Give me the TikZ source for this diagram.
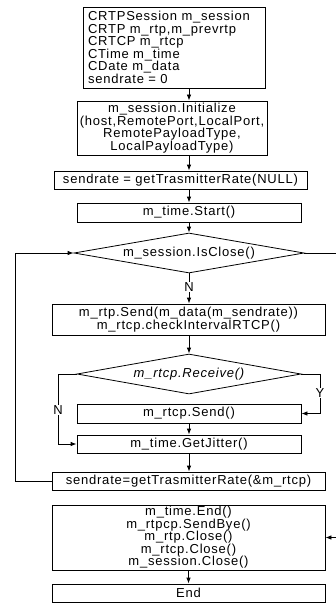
\documentclass[tikz,border=0pt]{standalone}
\usepackage{fontspec}
\setmainfont{Liberation Sans}[LetterSpace=6]
\usetikzlibrary{shapes.geometric,arrows.meta}
\begin{document}
\begin{tikzpicture}[x=1pt,y=-1pt,
  every node/.style={font=\fontsize{13}{12.5}\selectfont},
  box/.style={draw, line width=0.8pt, rectangle, inner sep=0pt, align=center},
  dia/.style={draw, line width=0.8pt, diamond, inner sep=0pt, aspect=5.75},
  lbl/.style={fill=white, inner sep=1pt},
  arr/.style={-{Latex[length=6pt,width=4.5pt]}, line width=0.8pt}]
\fill[white] (0,0) rectangle (336,604);
\useasboundingbox (0,0) rectangle (336,604);
\clip (0,0) rectangle (336,604);

\node[box, minimum width=182, minimum height=81, text width=172, align=left] (b1) at (174,47.5)
  {CRTPSession m\_session\\CRTP m\_rtp,m\_prevrtp\\CRTCP m\_rtcp\\CTime m\_time\\CDate m\_data\\sendrate = 0};
\node[box, minimum width=190, minimum height=54] (b2) at (172,128)
  {m\_session.Initialize\\(host,RemotePort,LocalPort,\\RemotePayloadType,\\LocalPayloadType)};
\node[box, minimum width=253, minimum height=18] (b3) at (180.5,180)
  {sendrate = getTrasmitterRate(NULL)};
\node[box, minimum width=224, minimum height=19] (b4) at (189,212.5) {m\_time.Start()};
\node[dia, minimum width=230, minimum height=40] (d1) at (189,253) {m\_session.IsClose()};
\node[box, minimum width=273, minimum height=31] (b5) at (188.5,319.5)
  {m\_rtp.Send(m\_data(m\_sendrate))\\m\_rtcp.checkIntervalRTCP()};
\node[dia, minimum width=224, minimum height=40] (d2) at (189,374) {\itshape m\_rtcp.Receive()};
\node[box, minimum width=224, minimum height=19] (b6) at (189,413.5) {m\_rtcp.Send()};
\node[box, minimum width=224, minimum height=18] (b7) at (189,444) {m\_time.GetJitter()};
\node[box, minimum width=273, minimum height=18] (b8) at (188.5,481) {sendrate=getTrasmitterRate(\&m\_rtcp)};
\node[box, minimum width=273, minimum height=65] (b9) at (188.5,537.5)
  {m\_time.End()\\m\_rtpcp.SendBye()\\m\_rtp.Close()\\m\_rtcp.Close()\\m\_session.Close()};
\node[box, minimum width=273, minimum height=18] (b10) at (188.5,593) {End};

\coordinate (yc) at (320,374);
\coordinate (nc) at (58,374);
\coordinate (lc) at (15,481);
\coordinate (rc) at (338,253);

\draw[arr] (b4.north |- b1.south) -- (b4.north |- b2.north);
\draw[arr] (b4.north |- b2.south) -- (b4.north |- b3.north);
\draw[arr] (b4.north |- b3.south) -- (b4.north);
\draw[arr] (b4.south) -- (d1.north);
\draw[arr] (d1.south) -- (d1.south |- b5.north);
\draw[arr] (d1.south |- b5.south) -- (d2.north);
\draw[arr] (d2.east) -- (yc) |- (b6.east);
\draw[arr] (d2.west) -- (nc) |- (b7.west);
\draw[arr] (b6.south) -- (b7.north);
\draw[arr] (b7.south) -- (b7.south |- b8.north);
\draw[arr] (b8.west) -- (lc) |- (d1.west);
\draw[arr] (d1.east) -- (rc) |- (b9.east);
\draw[arr] (b10.north |- b9.south) -- (b10.north);

\node[lbl] (n1) at (189,287) {N};
\node[lbl] (ylab) at (320,393) {Y};
\node[lbl] (n2) at (58,410) {N};
\end{tikzpicture}
\end{document}
